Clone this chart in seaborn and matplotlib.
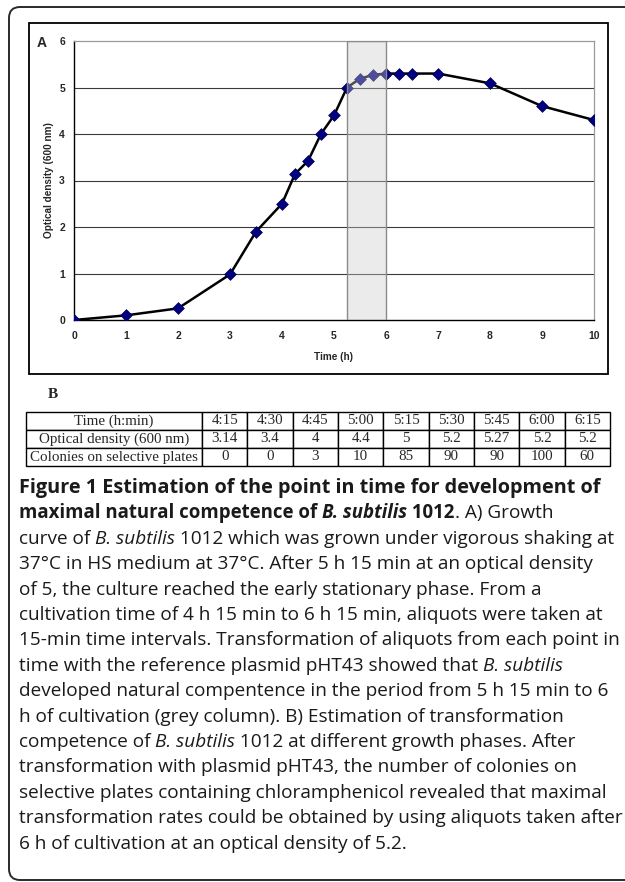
import numpy as np
import matplotlib
matplotlib.use("Agg")
import matplotlib.pyplot as plt
from matplotlib.patches import FancyBboxPatch, Rectangle
import seaborn as sns

# growth curve (panel A)
time_h = [0, 1, 2, 3, 3.5, 4, 4.25, 4.5, 4.75, 5, 5.25, 5.5, 5.75, 6, 6.25, 6.5, 7, 8, 9, 10]
od600 = [0, 0.1, 0.25, 0.98, 1.9, 2.5, 3.14, 3.42, 4.0, 4.4, 5.0, 5.19, 5.27, 5.3, 5.3, 5.3, 5.3, 5.09, 4.6, 4.3]
competence_window = (5.25, 6.0)

# table (panel B)
row_labels = ["Time (h:min)", "Optical density (600 nm)", "Colonies on selective plates"]
tab_times = ["4:15", "4:30", "4:45", "5:00", "5:15", "5:30", "5:45", "6:00", "6:15"]
tab_od = ["3.14", "3.4", "4", "4.4", "5", "5.2", "5.27", "5.2", "5.2"]
tab_colonies = ["0", "0", "3", "10", "85", "90", "90", "100", "60"]

# caption: (text, weight, style)
B, R = "bold", "normal"
caption = [
    [("Figure 1 Estimation of the point in time for development of", B, "normal")],
    [("maximal natural competence of ", B, "normal"), ("B. subtilis", B, "italic"),
     (" 1012", B, "normal"), (". A) Growth", R, "normal")],
    [("curve of ", R, "normal"), ("B. subtilis", R, "italic"),
     (" 1012 which was grown under vigorous shaking at", R, "normal")],
    [("37°C in HS medium at 37°C. After 5 h 15 min at an optical density", R, "normal")],
    [("of 5, the culture reached the early stationary phase. From a", R, "normal")],
    [("cultivation time of 4 h 15 min to 6 h 15 min, aliquots were taken at", R, "normal")],
    [("15-min time intervals. Transformation of aliquots from each point in", R, "normal")],
    [("time with the reference plasmid pHT43 showed that ", R, "normal"), ("B. subtilis", R, "italic")],
    [("developed natural compentence in the period from 5 h 15 min to 6", R, "normal")],
    [("h of cultivation (grey column). B) Estimation of transformation", R, "normal")],
    [("competence of ", R, "normal"), ("B. subtilis", R, "italic"),
     (" 1012 at different growth phases. After", R, "normal")],
    [("transformation with plasmid pHT43, the number of colonies on", R, "normal")],
    [("selective plates containing chloramphenicol revealed that maximal", R, "normal")],
    [("transformation rates could be obtained by using aliquots taken after", R, "normal")],
    [("6 h of cultivation at an optical density of 5.2.", R, "normal")],
]

sns.set_style("white")
plt.rcParams["font.family"] = ["Liberation Sans", "DejaVu Sans"]

W, H = 625, 882
fig = plt.figure(figsize=(W / 100, H / 100), dpi=100)

# background axes in pixel coordinates
bg = fig.add_axes([0, 0, 1, 1])
bg.set_xlim(0, W)
bg.set_ylim(H, 0)
bg.axis("off")

bg.add_patch(FancyBboxPatch((9, 7), 640, 873, boxstyle="round,pad=0,rounding_size=11",
                            fill=False, ec="#2a2a2a", lw=1.4))
bg.add_patch(Rectangle((29, 23), 579, 351, fill=False, ec="black", lw=1.3))
bg.text(42, 43, "A", fontsize=10, fontweight="bold", ha="center", va="center")

# panel A
ax = fig.add_axes([74 / W, 1 - 320 / H, 520 / W, 279 / H])
for y in range(1, 6):
    ax.axhline(y, color="#3a3a3a", lw=0.8, zorder=1)
sns.lineplot(x=time_h, y=od600, color="black", lw=1.8, ax=ax, zorder=2)
sns.scatterplot(x=time_h, y=od600, marker="D", color="#000080", s=36,
                edgecolor="#000050", linewidth=0.5, ax=ax, zorder=3)
ax.axvspan(*competence_window, facecolor=(0.80, 0.80, 0.80, 0.38),
           edgecolor="#8a8a8a", lw=1.0, zorder=5)

ax.set_xlim(0, 10)
ax.set_ylim(0, 6)
ax.set_xticks(range(0, 11))
ax.set_yticks(range(0, 7))
ax.tick_params(axis="both", direction="out", length=2.5, width=0.8, labelsize=7.5, pad=5.5)
ax.tick_params(axis="y", pad=4)
for lab in ax.get_xticklabels() + ax.get_yticklabels():
    lab.set_fontweight("bold")
for s in ["left", "bottom"]:
    ax.spines[s].set_color("black")
    ax.spines[s].set_linewidth(1.0)
for s in ["top", "right"]:
    ax.spines[s].set_color("#9a9a9a")
    ax.spines[s].set_linewidth(0.9)
ax.set_xlabel("Time (h)", fontsize=7.2, fontweight="bold")
ax.set_ylabel("Optical density (600 nm)", fontsize=7.2, fontweight="bold")
ax.xaxis.set_label_coords(0.5, -0.115)
ax.yaxis.set_label_coords(-0.038, 0.5)

# panel B
bg.text(53, 395, "B", fontsize=11, fontweight="bold", family="Liberation Serif",
        ha="center", va="center")
cells = [[row_labels[0]] + tab_times, [row_labels[1]] + tab_od, [row_labels[2]] + tab_colonies]
colw = [176] + [45.33] * len(tab_times)
tbl = bg.table(cellText=cells, cellLoc="center", colWidths=[c / sum(colw) for c in colw],
               bbox=[26 / W, 1 - 466 / H, 584 / W, 54 / H])
tbl.auto_set_font_size(False)
for cell in tbl.get_celld().values():
    cell.set_linewidth(1.0)
    cell.set_edgecolor("black")
    cell.get_text().set_fontfamily("Liberation Serif")
    cell.get_text().set_fontsize(10.8)

# caption with mixed styles
renderer = fig.canvas.get_renderer()


def text_width(txt, weight, style, size):
    t = bg.text(0, 0, "|" + txt + "|", fontsize=size, fontweight=weight, fontstyle=style,
                family="Open Sans")
    t0 = bg.text(0, 0, "||", fontsize=size, fontweight=weight, fontstyle=style,
                 family="Open Sans")
    w = t.get_window_extent(renderer).width - t0.get_window_extent(renderer).width
    t.remove()
    t0.remove()
    return w


reg_size = 13.7
bold_sizes = [14.3, 13.4]
for i, line in enumerate(caption):
    x = 19
    y = 493 + i * 25.4
    for txt, weight, style in line:
        size = bold_sizes[min(i, 1)] if weight == B else reg_size
        bg.text(x, y, txt, fontsize=size, fontweight=weight, fontstyle=style,
                family="Open Sans", ha="left", va="baseline", color="#1a1a1a")
        x += text_width(txt, weight, style, size)

fig.savefig("out.png", dpi=100)
